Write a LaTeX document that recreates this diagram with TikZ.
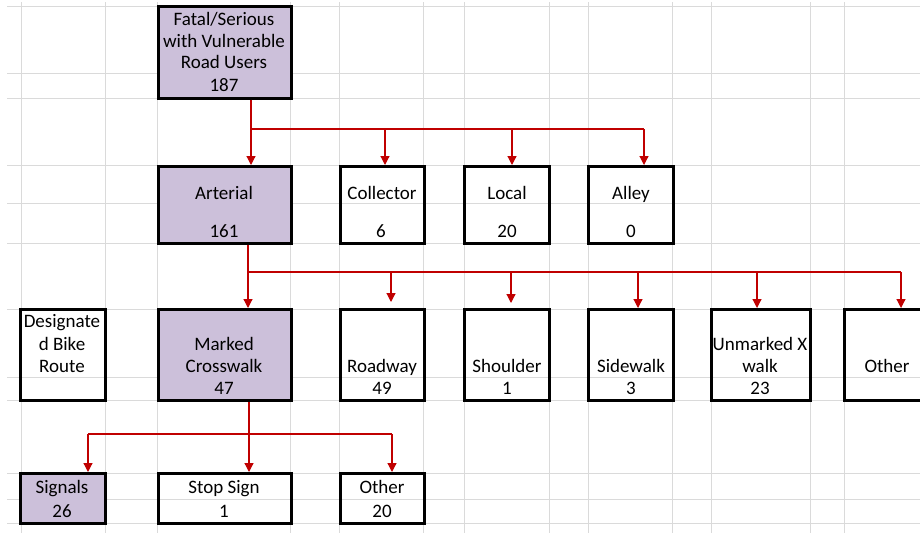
\documentclass[tikz,border=0pt]{standalone}
\usepackage{fontspec}
\setmainfont{Carlito}
\usetikzlibrary{arrows.meta}
\definecolor{gridc}{HTML}{DADADA}
\definecolor{lav}{HTML}{CCC0DA}
\definecolor{arr}{HTML}{C00000}
\begin{document}
\begin{tikzpicture}[x=1pt,y=-1pt,
  box/.style={draw=black, line width=2.5pt, anchor=north west, inner sep=0pt},
  hl/.style={box, fill=lav},
  txt/.style={anchor=base, inner sep=0pt, font=\fontsize{19}{22}\selectfont, text=black},
  conn/.style={draw=arr, line width=1.2pt},
  tip/.style={conn, -{Triangle[length=9pt,width=9pt]}},
  gridline/.style={draw=gridc, line width=1pt}]
\useasboundingbox (0,0) rectangle (920,533);
\clip (0,0) rectangle (920,533);
% spreadsheet grid
\foreach \y in {6,73,98,165,203,243,309,377,400,473,499,523}
  \draw[gridline] (7,\y) -- (920,\y);
\foreach \x in {21,105,157,290,339,423,464,549,588,672,711,810,844}
  \draw[gridline] (\x,2) -- (\x,533);
% boxes
\node[hl, minimum width=133pt, minimum height=92pt] (fatal) at (157,5) {};
\node[hl, minimum width=133pt, minimum height=77pt] (arterial) at (157,165) {};
\node[box, minimum width=84pt, minimum height=77pt] (collector) at (339,165) {};
\node[box, minimum width=85pt, minimum height=77pt] (local) at (463,165) {};
\node[box, minimum width=85pt, minimum height=77pt] (alley) at (587,165) {};
\node[box, minimum width=85pt, minimum height=91pt] (desig) at (19,308) {};
\node[hl, minimum width=133pt, minimum height=91pt] (marked) at (157,308) {};
\node[box, minimum width=84pt, minimum height=91pt] (roadway) at (339,308) {};
\node[box, minimum width=85pt, minimum height=91pt] (shoulder) at (463,308) {};
\node[box, minimum width=85pt, minimum height=91pt] (sidewalk) at (587,308) {};
\node[box, minimum width=99pt, minimum height=91pt] (unmarked) at (710,308) {};
\node[box, minimum width=92pt, minimum height=91pt] (otherA) at (843,308) {};
\node[hl, minimum width=85pt, minimum height=50pt] (signals) at (19,472) {};
\node[box, minimum width=133pt, minimum height=50pt] (stop) at (157,472) {};
\node[box, minimum width=84pt, minimum height=50pt] (otherB) at (339,472) {};
% texts
\node[txt] (fatal1) at (224,25) {Fatal/Serious};
\node[txt] (fatal2) at (224,47) {with Vulnerable};
\node[txt] (fatal3) at (224,68) {Road Users};
\node[txt] (fatal4) at (224,91) {187};
\node[txt] (art1) at (224,199) {Arterial};
\node[txt] (art2) at (224,237) {161};
\node[txt] (col1) at (382,199) {Collector};
\node[txt] (col2) at (381,237) {6};
\node[txt] (loc1) at (507,199) {Local};
\node[txt] (loc2) at (507,237) {20};
\node[txt] (all1) at (631,199) {Alley};
\node[txt] (all2) at (631,237) {0};
\node[txt] (des1) at (62,327) {Designate};
\node[txt] (des2) at (62,350) {d Bike};
\node[txt] (des3) at (62,372) {Route};
\node[txt] (mar1) at (224,350) {Marked};
\node[txt] (mar2) at (224,372) {Crosswalk};
\node[txt] (mar3) at (224,394) {47};
\node[txt] (roa1) at (382,372) {Roadway};
\node[txt] (roa2) at (382,394) {49};
\node[txt] (sho1) at (507,372) {Shoulder};
\node[txt] (sho2) at (507,394) {1};
\node[txt] (sid1) at (631,372) {Sidewalk};
\node[txt] (sid2) at (631,394) {3};
\node[txt] (unm1) at (760,350) {Unmarked X};
\node[txt] (unm2) at (760,372) {walk};
\node[txt] (unm3) at (760,394) {23};
\node[txt] (othA1) at (887,372) {Other};
\node[txt] (sig1) at (62,493) {Signals};
\node[txt] (sig2) at (62,517) {26};
\node[txt] (sto1) at (224,493) {Stop Sign};
\node[txt] (sto2) at (224,517) {1};
\node[txt] (othB1) at (382,493) {Other};
\node[txt] (othB2) at (382,517) {20};
% junction coordinates
\coordinate (ja) at (251,129);
\coordinate (jaR) at (644,129);
\coordinate (jb) at (248,272);
\coordinate (jbR) at (901,272);
\coordinate (jc) at (249,434);
\coordinate (jcL) at (88,434);
\coordinate (jcR) at (392,434);
% level 1 connectors
\draw[tip] (fatal.south -| ja) -- (ja |- arterial.north);
\draw[conn] (ja) -- (jaR);
\draw[tip] (ja -| 385,0) -- (arterial.north -| 385,0);
\draw[tip] (ja -| 512,0) -- (local.north -| 512,0);
\draw[tip] (jaR) -- (jaR |- alley.north);
% level 2 connectors
\draw[tip] (arterial.south -| jb) -- (jb |- marked.north);
\draw[conn] (jb) -- (jbR);
\draw[tip] (jb -| 391,0) -- (391,302);
\draw[tip] (jb -| 511,0) -- (511,303);
\draw[tip] (jb -| 638,0) -- (sidewalk.north -| 638,0);
\draw[tip] (jb -| 757,0) -- (unmarked.north -| 757,0);
\draw[tip] (jbR) -- (jbR |- otherA.north);
% level 3 connectors
\draw[tip] (marked.south -| jc) -- (jc |- stop.north);
\draw[conn] (jcL) -- (jcR);
\draw[tip] (jcL) -- (jcL |- signals.north);
\draw[tip] (jcR) -- (jcR |- otherB.north);
\end{tikzpicture}
\end{document}
